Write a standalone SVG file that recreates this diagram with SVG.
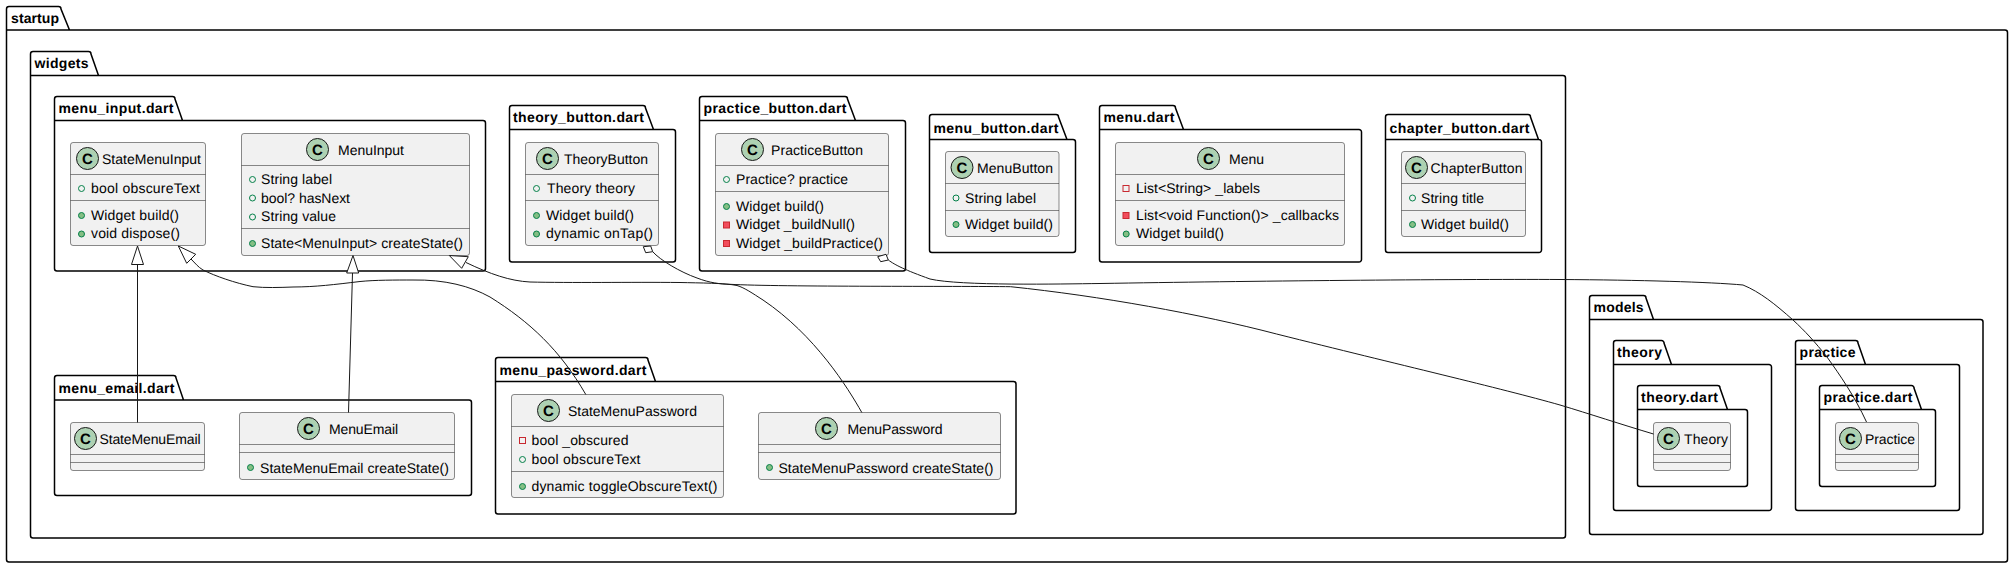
<svg xmlns="http://www.w3.org/2000/svg" width="2013" height="568" viewBox="0 0 2013 568">
<style>
text{font-family:"Liberation Sans",Arial,sans-serif;font-size:14px;fill:#000;text-rendering:geometricPrecision}
.p path{fill:none;stroke:#000;stroke-width:1.5}
.p text{font-weight:700}
.c rect.b{fill:#F1F1F1;stroke:#181818;stroke-width:.5}
.c line{stroke:#181818;stroke-width:.5}
.c circle.s{fill:#ADD1B2;stroke:#181818;stroke-width:1}
.c text.g{font-weight:700;font-size:15px;text-anchor:middle}
.fp{fill:none;stroke:#038048;stroke-width:1}
.mp{fill:#84BE84;stroke:#038048;stroke-width:1}
.fr{fill:none;stroke:#C82930;stroke-width:1}
.mr{fill:#F24D5C;stroke:#C82930;stroke-width:1}
#connectors path{fill:none;stroke:#181818;stroke-width:1}
#connectors polygon{fill:#fff;stroke:#181818;stroke-width:1}
</style>
<g class="p" id="pkg-startup"><path d="M9,6.5L58.5,6.5A2.5,2.5 0 0 1 61,9L69.5,30L2005,30A2.5,2.5 0 0 1 2007.5,32.5L2007.5,559.5A2.5,2.5 0 0 1 2005,562L9,562A2.5,2.5 0 0 1 6.5,559.5L6.5,9A2.5,2.5 0 0 1 9,6.5ZM6.5,30L69.5,30"/><text x="11" y="23" textLength="48">startup</text></g>
<g class="p" id="pkg-widgets"><path d="M33,51.5L88.5,51.5A2.5,2.5 0 0 1 91,54L98.5,75.5L1563,75.5A2.5,2.5 0 0 1 1565.5,78L1565.5,535.5A2.5,2.5 0 0 1 1563,538L33,538A2.5,2.5 0 0 1 30.5,535.5L30.5,54A2.5,2.5 0 0 1 33,51.5ZM30.5,75.5L98.5,75.5"/><text x="34.5" y="68" textLength="54">widgets</text></g>
<g class="p" id="pkg-menu-input"><path d="M57,96.5L172.5,96.5A2.5,2.5 0 0 1 175,99L182.5,120.5L483,120.5A2.5,2.5 0 0 1 485.5,123L485.5,268.5A2.5,2.5 0 0 1 483,271L57,271A2.5,2.5 0 0 1 54.5,268.5L54.5,99A2.5,2.5 0 0 1 57,96.5ZM54.5,120.5L182.5,120.5"/><text x="58.5" y="113" textLength="115">menu_input.dart</text></g>
<g class="p" id="pkg-menu-email"><path d="M57,375.5L173.5,375.5A2.5,2.5 0 0 1 176,378L183.5,400L469,400A2.5,2.5 0 0 1 471.5,402.5L471.5,493A2.5,2.5 0 0 1 469,495.5L57,495.5A2.5,2.5 0 0 1 54.5,493L54.5,378A2.5,2.5 0 0 1 57,375.5ZM54.5,400L183.5,400"/><text x="58.5" y="393" textLength="116">menu_email.dart</text></g>
<g class="p" id="pkg-theory-button"><path d="M512,105.5L643,105.5A2.5,2.5 0 0 1 645.5,108L653.5,129.5L673,129.5A2.5,2.5 0 0 1 675.5,132L675.5,259.5A2.5,2.5 0 0 1 673,262L512,262A2.5,2.5 0 0 1 509.5,259.5L509.5,108A2.5,2.5 0 0 1 512,105.5ZM509.5,129.5L653.5,129.5"/><text x="513" y="122" textLength="131">theory_button.dart</text></g>
<g class="p" id="pkg-practice-button"><path d="M702,96.5L845,96.5A2.5,2.5 0 0 1 847.5,99L855.5,120.5L903,120.5A2.5,2.5 0 0 1 905.5,123L905.5,268.5A2.5,2.5 0 0 1 903,271L702,271A2.5,2.5 0 0 1 699.5,268.5L699.5,99A2.5,2.5 0 0 1 702,96.5ZM699.5,120.5L855.5,120.5"/><text x="703.5" y="113" textLength="143">practice_button.dart</text></g>
<g class="p" id="pkg-menu-button"><path d="M932,114.5L1056,114.5A2.5,2.5 0 0 1 1058.5,117L1067,139.5L1073,139.5A2.5,2.5 0 0 1 1075.5,142L1075.5,250A2.5,2.5 0 0 1 1073,252.5L932,252.5A2.5,2.5 0 0 1 929.5,250L929.5,117A2.5,2.5 0 0 1 932,114.5ZM929.5,139.5L1067,139.5"/><text x="933.5" y="133" textLength="125">menu_button.dart</text></g>
<g class="p" id="pkg-menu"><path d="M1102,105.5L1173,105.5A2.5,2.5 0 0 1 1175.5,108L1183.5,129.5L1359,129.5A2.5,2.5 0 0 1 1361.5,132L1361.5,259.5A2.5,2.5 0 0 1 1359,262L1102,262A2.5,2.5 0 0 1 1099.5,259.5L1099.5,108A2.5,2.5 0 0 1 1102,105.5ZM1099.5,129.5L1183.5,129.5"/><text x="1103.5" y="122" textLength="71">menu.dart</text></g>
<g class="p" id="pkg-chapter-button"><path d="M1388,114.5L1528,114.5A2.5,2.5 0 0 1 1530.5,117L1538.5,139.5L1539,139.5A2.5,2.5 0 0 1 1541.5,142L1541.5,250A2.5,2.5 0 0 1 1539,252.5L1388,252.5A2.5,2.5 0 0 1 1385.5,250L1385.5,117A2.5,2.5 0 0 1 1388,114.5ZM1385.5,139.5L1538.5,139.5"/><text x="1389.5" y="133" textLength="140">chapter_button.dart</text></g>
<g class="p" id="pkg-menu-password"><path d="M498,357.5L645.5,357.5A2.5,2.5 0 0 1 648,360L655.5,381.5L1013.5,381.5A2.5,2.5 0 0 1 1016,384L1016,511.5A2.5,2.5 0 0 1 1013.5,514L498,514A2.5,2.5 0 0 1 495.5,511.5L495.5,360A2.5,2.5 0 0 1 498,357.5ZM495.5,381.5L655.5,381.5"/><text x="499.5" y="375" textLength="147">menu_password.dart</text></g>
<g class="p" id="pkg-models"><path d="M1592,295.5L1643.5,295.5A2.5,2.5 0 0 1 1646,298L1653.5,319.5L1980.5,319.5A2.5,2.5 0 0 1 1983,322L1983,532A2.5,2.5 0 0 1 1980.5,534.5L1592,534.5A2.5,2.5 0 0 1 1589.5,532L1589.5,298A2.5,2.5 0 0 1 1592,295.5ZM1589.5,319.5L1653.5,319.5"/><text x="1593.5" y="312" textLength="50">models</text></g>
<g class="p" id="pkg-theory"><path d="M1616,340.5L1661.5,340.5A2.5,2.5 0 0 1 1664,343L1671.5,364.5L1769,364.5A2.5,2.5 0 0 1 1771.5,367L1771.5,508A2.5,2.5 0 0 1 1769,510.5L1616,510.5A2.5,2.5 0 0 1 1613.5,508L1613.5,343A2.5,2.5 0 0 1 1616,340.5ZM1613.5,364.5L1671.5,364.5"/><text x="1617" y="357" textLength="45">theory</text></g>
<g class="p" id="pkg-theory-dart"><path d="M1640,385.5L1717.5,385.5A2.5,2.5 0 0 1 1720,388L1727.5,409.5L1745,409.5A2.5,2.5 0 0 1 1747.5,412L1747.5,484A2.5,2.5 0 0 1 1745,486.5L1640,486.5A2.5,2.5 0 0 1 1637.5,484L1637.5,388A2.5,2.5 0 0 1 1640,385.5ZM1637.5,409.5L1727.5,409.5"/><text x="1641" y="402" textLength="77">theory.dart</text></g>
<g class="p" id="pkg-practice"><path d="M1798,340.5L1855.5,340.5A2.5,2.5 0 0 1 1858,343L1865.5,364.5L1957,364.5A2.5,2.5 0 0 1 1959.5,367L1959.5,508A2.5,2.5 0 0 1 1957,510.5L1798,510.5A2.5,2.5 0 0 1 1795.5,508L1795.5,343A2.5,2.5 0 0 1 1798,340.5ZM1795.5,364.5L1865.5,364.5"/><text x="1799.5" y="357" textLength="56">practice</text></g>
<g class="p" id="pkg-practice-dart"><path d="M1822,385.5L1911.5,385.5A2.5,2.5 0 0 1 1914,388L1921.5,409.5L1933,409.5A2.5,2.5 0 0 1 1935.5,412L1935.5,484A2.5,2.5 0 0 1 1933,486.5L1822,486.5A2.5,2.5 0 0 1 1819.5,484L1819.5,388A2.5,2.5 0 0 1 1822,385.5ZM1819.5,409.5L1921.5,409.5"/><text x="1823.5" y="402" textLength="89">practice.dart</text></g>

<g class="c" id="StateMenuInput"><rect class="b" x="70.5" y="142.5" width="135" height="103" rx="2.5"/><circle class="s" cx="87.5" cy="158.5" r="11"/><text class="g" x="87.5" y="163.7">C</text><text x="102" y="164" textLength="99">StateMenuInput</text><line x1="70.5" y1="174.5" x2="205.5" y2="174.5"/><line x1="70.5" y1="200.5" x2="205.5" y2="200.5"/><circle class="fp" cx="81.5" cy="188.5" r="3"/><text x="91" y="193" textLength="109">bool obscureText</text><circle class="mp" cx="81.5" cy="215.5" r="3"/><text x="91" y="220" textLength="88">Widget build()</text><circle class="mp" cx="81.5" cy="234" r="3"/><text x="91" y="238" textLength="89">void dispose()</text></g>
<g class="c" id="MenuInput"><rect class="b" x="241.5" y="133.5" width="228" height="122" rx="2.5"/><circle class="s" cx="317.5" cy="149.5" r="11"/><text class="g" x="317.5" y="154.7">C</text><text x="338" y="155" textLength="66">MenuInput</text><line x1="241.5" y1="165.5" x2="469.5" y2="165.5"/><line x1="241.5" y1="228.5" x2="469.5" y2="228.5"/><circle class="fp" cx="252.5" cy="179.5" r="3"/><text x="261" y="184" textLength="71">String label</text><circle class="fp" cx="252.5" cy="198" r="3"/><text x="261" y="203" textLength="89">bool? hasNext</text><circle class="fp" cx="252.5" cy="217" r="3"/><text x="261" y="221" textLength="75">String value</text><circle class="mp" cx="252.5" cy="243.5" r="3"/><text x="261" y="248" textLength="202">State&lt;MenuInput&gt; createState()</text></g>
<g class="c" id="StateMenuEmail"><rect class="b" x="70.5" y="422.5" width="134" height="48" rx="2.5"/><circle class="s" cx="85.5" cy="438.5" r="11"/><text class="g" x="85.5" y="443.7">C</text><text x="99.5" y="444" textLength="101">StateMenuEmail</text><line x1="70.5" y1="454.5" x2="204.5" y2="454.5"/><line x1="70.5" y1="462.5" x2="204.5" y2="462.5"/></g>
<g class="c" id="MenuEmail"><rect class="b" x="239.5" y="412.5" width="215" height="67" rx="2.5"/><circle class="s" cx="308.5" cy="428.5" r="11"/><text class="g" x="308.5" y="433.7">C</text><text x="329" y="434" textLength="69">MenuEmail</text><line x1="239.5" y1="444.5" x2="454.5" y2="444.5"/><line x1="239.5" y1="452.5" x2="454.5" y2="452.5"/><circle class="mp" cx="250.5" cy="467.5" r="3"/><text x="260" y="473" textLength="189">StateMenuEmail createState()</text></g>
<g class="c" id="TheoryButton"><rect class="b" x="525.5" y="142.5" width="133" height="103" rx="2.5"/><circle class="s" cx="547.5" cy="158.5" r="11"/><text class="g" x="547.5" y="163.7">C</text><text x="564" y="164" textLength="84">TheoryButton</text><line x1="525.5" y1="174.5" x2="658.5" y2="174.5"/><line x1="525.5" y1="200.5" x2="658.5" y2="200.5"/><circle class="fp" cx="536.5" cy="188.5" r="3"/><text x="547" y="193" textLength="88">Theory theory</text><circle class="mp" cx="536.5" cy="215.5" r="3"/><text x="546" y="220" textLength="88">Widget build()</text><circle class="mp" cx="536.5" cy="234" r="3"/><text x="546" y="238" textLength="107">dynamic onTap()</text></g>
<g class="c" id="PracticeButton"><rect class="b" x="715.5" y="133.5" width="173" height="122" rx="2.5"/><circle class="s" cx="752.5" cy="149.5" r="11"/><text class="g" x="752.5" y="154.7">C</text><text x="771" y="155" textLength="92">PracticeButton</text><line x1="715.5" y1="165.5" x2="888.5" y2="165.5"/><line x1="715.5" y1="191.5" x2="888.5" y2="191.5"/><circle class="fp" cx="726.5" cy="179.5" r="3"/><text x="736" y="184" textLength="112">Practice? practice</text><circle class="mp" cx="726.5" cy="206.5" r="3"/><text x="736" y="211" textLength="88">Widget build()</text><rect class="mr" x="723.5" y="222" width="6" height="6"/><text x="736" y="229" textLength="119">Widget _buildNull()</text><rect class="mr" x="723.5" y="240.5" width="6" height="6"/><text x="736" y="248" textLength="147">Widget _buildPractice()</text></g>
<g class="c" id="MenuButton"><rect class="b" x="945.5" y="151.5" width="113.5" height="85" rx="2.5"/><circle class="s" cx="962" cy="167.5" r="11"/><text class="g" x="962" y="172.7">C</text><text x="977" y="173" textLength="76">MenuButton</text><line x1="945.5" y1="183.5" x2="1059" y2="183.5"/><line x1="945.5" y1="210.5" x2="1059" y2="210.5"/><circle class="fp" cx="956" cy="198" r="3"/><text x="965" y="203" textLength="71">String label</text><circle class="mp" cx="956" cy="224.5" r="3"/><text x="965" y="229" textLength="88">Widget build()</text></g>
<g class="c" id="Menu"><rect class="b" x="1115.5" y="142.5" width="229" height="103" rx="2.5"/><circle class="s" cx="1208.5" cy="158.5" r="11"/><text class="g" x="1208.5" y="163.7">C</text><text x="1229" y="164" textLength="35">Menu</text><line x1="1115.5" y1="174.5" x2="1344.5" y2="174.5"/><line x1="1115.5" y1="200.5" x2="1344.5" y2="200.5"/><rect class="fr" x="1123" y="185.5" width="6" height="6"/><text x="1136" y="193" textLength="124">List&lt;String&gt; _labels</text><rect class="mr" x="1123" y="212.5" width="6" height="6"/><text x="1136" y="220" textLength="203">List&lt;void Function()&gt; _callbacks</text><circle class="mp" cx="1126.2" cy="234" r="3"/><text x="1136" y="238" textLength="88">Widget build()</text></g>
<g class="c" id="ChapterButton"><rect class="b" x="1401.5" y="151.5" width="124" height="85" rx="2.5"/><circle class="s" cx="1416.5" cy="167.5" r="11"/><text class="g" x="1416.5" y="172.7">C</text><text x="1430.5" y="173" textLength="92">ChapterButton</text><line x1="1401.5" y1="183.5" x2="1525.5" y2="183.5"/><line x1="1401.5" y1="210.5" x2="1525.5" y2="210.5"/><circle class="fp" cx="1412.5" cy="198" r="3"/><text x="1421" y="203" textLength="63">String title</text><circle class="mp" cx="1412.5" cy="224.5" r="3"/><text x="1421" y="229" textLength="88">Widget build()</text></g>
<g class="c" id="StateMenuPassword"><rect class="b" x="511.5" y="394.5" width="212" height="103" rx="2.5"/><circle class="s" cx="548.5" cy="410.5" r="11"/><text class="g" x="548.5" y="415.7">C</text><text x="568" y="416" textLength="129">StateMenuPassword</text><line x1="511.5" y1="426.5" x2="723.5" y2="426.5"/><line x1="511.5" y1="471.5" x2="723.5" y2="471.5"/><rect class="fr" x="519.5" y="437.5" width="6" height="6"/><text x="531.5" y="445" textLength="97">bool _obscured</text><circle class="fp" cx="522.5" cy="459.5" r="3"/><text x="531.5" y="464" textLength="109">bool obscureText</text><circle class="mp" cx="522.5" cy="486.5" r="3"/><text x="531.5" y="491" textLength="186">dynamic toggleObscureText()</text></g>
<g class="c" id="MenuPassword"><rect class="b" x="758.5" y="412.5" width="242" height="67" rx="2.5"/><circle class="s" cx="826.5" cy="428.5" r="11"/><text class="g" x="826.5" y="433.7">C</text><text x="847.5" y="434" textLength="95">MenuPassword</text><line x1="758.5" y1="444.5" x2="1000.5" y2="444.5"/><line x1="758.5" y1="452.5" x2="1000.5" y2="452.5"/><circle class="mp" cx="769.5" cy="467.5" r="3"/><text x="778.5" y="473" textLength="215">StateMenuPassword createState()</text></g>
<g class="c" id="Theory"><rect class="b" x="1653.5" y="422.5" width="77" height="48" rx="2.5"/><circle class="s" cx="1668.5" cy="438.5" r="11"/><text class="g" x="1668.5" y="443.7">C</text><text x="1684" y="444" textLength="44">Theory</text><line x1="1653.5" y1="454.5" x2="1730.5" y2="454.5"/><line x1="1653.5" y1="462.5" x2="1730.5" y2="462.5"/></g>
<g class="c" id="Practice"><rect class="b" x="1835.5" y="422.5" width="83" height="48" rx="2.5"/><circle class="s" cx="1850.5" cy="438.5" r="11"/><text class="g" x="1850.5" y="443.7">C</text><text x="1865" y="444" textLength="50">Practice</text><line x1="1835.5" y1="454.5" x2="1918.5" y2="454.5"/><line x1="1835.5" y1="462.5" x2="1918.5" y2="462.5"/></g>

<g id="connectors">
<path d="M137.5,422.5L137.5,264.5"/><polygon points="137.5,246 131.5,264.5 143.5,264.5"/>
<path d="M348.5,412.5L352.5,273"/><polygon points="353,255.5 346.7,273 358.7,273"/>
<path d="M585.8,394.5C560,350 530,322 490,297C470,286 445,279.5 413,280C395,280 375,280 360,281.5C335,284.5 315,287 293,287C280,287.5 265,288 253,286.7C235,283 215,276 203,270C198,267 195,263 191,259"/><polygon points="178.3,246 195.7,254.3 186.7,263.3"/>
<path d="M861.8,412.5C848,388 815,335 763,300C752,293 745,288 737,285.5C725,283 700,283 680,282.5C630,282 570,283 530,282C510,281 490,274 466,262.5"/><polygon points="449.3,255.5 468.3,256.7 461.7,268.3"/>
<path d="M652.7,251.7C660,260 680,272 697,278C710,283 720,284 730,284.3C780,287 960,286 1010.6,286.7C1100,296 1200,314 1276.6,334C1400,365 1500,388 1560,405C1590,414 1620,424 1653.5,434"/><polygon points="643.3,246.7 650.7,246 652.7,251.7 645.7,252.7"/>
<path d="M888.3,260C895,265 905,270 930,279C960,286 1060,284 1100,283.5C1250,281 1450,279 1560,279.5C1640,280 1710,282 1743,285C1760,292 1775,304 1793,320C1805,331 1815,342 1827,357C1840,375 1855,397 1866.5,422"/><polygon points="877.7,256.7 886,254.3 888.3,260 880.7,261.7"/>
</g>
</svg>
